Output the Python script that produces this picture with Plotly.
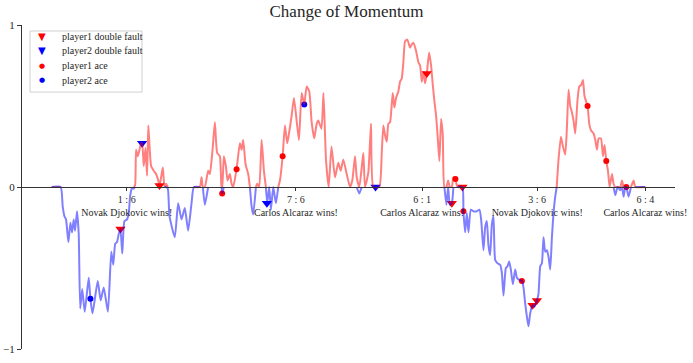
import numpy as np
import plotly.graph_objects as go

# momentum curve (point index, momentum)
point_x = [0, 4.5, 5.5, 6.35, 7.15, 8.35, 9.35, 10.15, 11, 11.65, 12.65, 13.5, 14.25, 15.25, 16.5, 18.5,
           19.35, 20.4, 23, 24.5, 26, 28.1, 29.75, 30.75, 31.75, 32.65, 33.5, 34.35, 35.25, 36.35, 37.65,
           38.5, 39.15, 40, 41, 41.65, 42.15, 43, 43.85, 44.65, 45.15, 46, 46.85, 47.65, 48.25, 49.65, 51,
           52.15, 53, 53.85, 54.65, 55.5, 56.35, 57.15, 58, 58.85, 61.5, 63.15, 64.85, 66.5, 68.15, 69.85,
           71, 74, 74.85, 75.5, 76.5, 78.15, 79, 80.35, 81.5, 82.65, 84, 84.85, 85.15, 86, 87, 87.85, 89,
           89.85, 90.65, 92.35, 94, 94.85, 95.65, 96.85, 98.15, 99, 99.85, 100.65, 102, 102.65, 103.65,
           104.85, 106, 107, 107.65, 108.65, 109.5, 110.65, 112, 113.15, 114, 115.35, 116.5, 117.65, 118.65,
           119.85, 121, 122.35, 123.5, 124.85, 126.15, 127.35, 128.65, 129.85, 131.15, 132.35, 133.15,
           134.75, 135.75, 137, 138.35, 139.75, 141.5, 143.15, 144.35, 145.65, 147.35, 149, 150.15, 151.5,
           152.35, 153.65, 154.85, 155.65, 156.5, 158.15, 159.5, 160.65, 163.65, 164.85, 165.65, 166.5,
           167.35, 168.15, 169, 170.35, 171.15, 172, 173.15, 174, 174.85, 175.65, 176.5, 177.65, 179,
           179.85, 180.65, 182, 183.15, 184, 184.85, 185.65, 186.5, 187.35, 188.5, 189.5, 190.35, 191.15,
           192, 192.85, 193.65, 194.5, 195.35, 196.15, 197.15, 198, 198.85, 199.85, 200.65, 201.65, 202.65,
           205.15, 205.65, 206.5, 207.35, 208.15, 209.35, 210.65, 212.35, 213.65, 214.5, 215.65, 216.5,
           217.35, 218.15, 219, 219.85, 220.65, 221.5, 222.65, 224, 224.85, 225.65, 226.85, 227.65, 228.5,
           229.35, 230.35, 231.5, 232.35, 233.15, 234.85, 235.65, 236.5, 237.35, 238.15, 239, 240.15,
           241.15, 242.35, 243.15, 244, 244.85, 245.65, 246.5, 247.35, 248.15, 249, 249.85, 250.65, 251.5,
           252.25, 253.15, 254.35, 255.35, 256.5, 257.35, 258.15, 259, 259.85, 260.65, 261.5, 262.65, 263.5,
           264.5, 265.35, 266.15, 267.65, 268.5, 269.35, 270.65, 271.5, 272.35, 273.15, 274.35, 275.35,
           276.15, 277, 277.85, 278.65, 279.85, 280.65, 281.5, 282.65, 284, 284.85, 285.65, 286.5, 287,
           288.15, 289.35, 290.65, 291.5, 296.5]
momentum = [0, 0, -0.12, -0.18, -0.20, -0.34, -0.22, -0.28, -0.20, -0.27, -0.15, -0.29, -0.75, -0.63, -0.77, -0.56,
            -0.69, -0.78, -0.58, -0.70, -0.62, -0.77, -0.40, -0.48, -0.35, -0.34, -0.29, -0.26, -0.41, -0.21, -0.20,
            -0.16, -0.06, -0.01, -0.01, 0.01, 0.23, 0.19, 0.23, 0.27, 0.27, 0.13, 0.24, 0.07, 0.38, 0.13, 0.10,
            0.08, 0.05, 0.01, 0.06, 0.12, 0, 0.02, -0.01, -0.18, -0.31, -0.10, -0.20, -0.13, -0.27, -0.10,
            0, 0, 0.06, 0, -0.11, 0.10, 0.08, 0.23, 0.40, 0.21, 0.19, 0, -0.04, 0.19, 0.13, 0.04, 0.08,
            0.02, 0, 0.11, 0.27, 0.23, 0.29, 0.14, 0.08, 0, -0.12, -0.17, 0, 0.02, 0,
            0.29, 0.10, 0, -0.10, 0, -0.14, 0, -0.10, 0, 0.04, 0.19, 0.38, 0.27, 0.34,
            0.44, 0.55, 0.41, 0.29, 0.58, 0.51, 0.62, 0.59, 0.40, 0.30, 0.39, 0.41,
            0.36, 0.58, 0.17, 0, 0.25, 0.06, 0.15, 0.10, 0.17, 0.08, 0, 0.04, 0.19,
            0.06, -0.04, 0.12, 0.21, 0, 0.09, 0.39, 0, 0, 0.21, 0.38, 0.32,
            0.28, 0.39, 0.40, 0.58, 0.49, 0.55, 0.59, 0.65, 0.67, 0.77, 0.90, 0.91, 0.86,
            0.88, 0.89, 0.84, 0.77, 0.75, 0.65, 0.71, 0.64, 0.70, 0.83, 0.75, 0.63, 0.53,
            0.44, 0.30, 0.16, 0.42, 0.32, 0, -0.11, 0.04, -0.11, -0.10, 0.06, 0.05, 0,
            0, -0.15, -0.28, -0.16, -0.28, -0.14, -0.15, -0.15, -0.14, -0.20, -0.39, -0.25,
            -0.21, -0.36, -0.42, -0.23, -0.18, -0.45, -0.47, -0.48, -0.53, -0.67, -0.50, -0.49, -0.46,
            -0.51, -0.60, -0.51, -0.56, -0.57, -0.58, -0.62, -0.72, -0.80, -0.86, -0.78, -0.73,
            -0.74, -0.70, -0.66, -0.49, -0.47, -0.31, -0.40, -0.39, -0.43, -0.51, -0.31, -0.16, -0.06,
            0, 0.17, 0.31, 0.25, 0.20, 0.37, 0.60, 0.50, 0.46, 0.41, 0.33, 0.54, 0.62,
            0.63, 0.66, 0.56, 0.50, 0.39, 0.35, 0.33, 0.29, 0.23, 0.30, 0.30, 0.19,
            0.26, 0.16, 0.10, 0, 0.08, 0.02, -0.05, 0, -0.02, 0.04, -0.06, 0, 0,
            -0.06, 0, 0.04, 0, 0]

# events
p1_df_x = [34.35, 53.85, 187.35, 199.85, 205.15, 240.15, 242.35]
p1_df_y = [-0.26, 0.01, 0.70, -0.10, 0, -0.73, -0.70]
p2_df_x = [45.15, 107.5, 161.75]
p2_df_y = [0.27, -0.10, 0]
p1_ace_x = [85.15, 92.35, 115.35, 201.65, 205.65, 234.85, 267.65, 277, 287]
p1_ace_y = [-0.04, 0.11, 0.19, 0.05, -0.15, -0.58, 0.50, 0.16, 0]
p2_ace_x = [19.35, 126.15]
p2_ace_y = [-0.69, 0.51]

# set ends and results
set_end_x = [37.5, 122, 185, 242.5, 296.5]
set_scores = ["1 : 6", "7 : 6", "6 : 1", "3 : 6", "6 : 4"]
set_winners = ["Novak Djokovic wins!", "Carlos Alcaraz wins!", "Carlos Alcaraz wins!",
               "Novak Djokovic wins!", "Carlos Alcaraz wins!"]
y_ticks = [-1, 0, 1]
y_tick_text = ["\u22121", "0", "1"]

# legend entries: label, symbol, colour
legend_labels = ["player1 double fault", "player2 double fault", "player1 ace", "player2 ace"]
legend_symbols = ["▼", "▼", "●", "●"]
legend_colors = ["red", "blue", "red", "blue"]

serif = "Liberation Serif"
m = np.array(momentum, dtype=float)
x = np.array(point_x, dtype=float)

# split the curve: red part where momentum >= 0, blue part where <= 0
prev = np.concatenate([[m[0]], m[:-1]])
nxt = np.concatenate([m[1:], [m[-1]]])
show_pos = (m >= 0) | (prev > 0) | (nxt > 0)
show_neg = (m <= 0) | (prev < 0) | (nxt < 0)
y_pos = np.where(show_pos, np.maximum(m, 0), np.nan)
y_neg = np.where(show_neg, np.minimum(m, 0), np.nan)

fig = go.Figure()
fig.add_trace(go.Scatter(x=p1_df_x, y=p1_df_y, mode="markers", name=legend_labels[0],
                         marker=dict(symbol="triangle-down", size=9, color="red")))
fig.add_trace(go.Scatter(x=p2_df_x, y=p2_df_y, mode="markers", name=legend_labels[1],
                         marker=dict(symbol="triangle-down", size=9, color="blue")))
fig.add_trace(go.Scatter(x=p1_ace_x, y=p1_ace_y, mode="markers", name=legend_labels[2],
                         marker=dict(symbol="circle", size=6, color="red")))
fig.add_trace(go.Scatter(x=p2_ace_x, y=p2_ace_y, mode="markers", name=legend_labels[3],
                         marker=dict(symbol="circle", size=6, color="blue")))
fig.add_trace(go.Scatter(x=x, y=y_pos, mode="lines", showlegend=False, hoverinfo="skip",
                         line=dict(color="rgba(255,0,0,0.5)", width=2, shape="spline", smoothing=0.5)))
fig.add_trace(go.Scatter(x=x, y=y_neg, mode="lines", showlegend=False, hoverinfo="skip",
                         line=dict(color="rgba(0,0,255,0.5)", width=2, shape="spline", smoothing=0.5)))

# compact legend box (matplotlib-like), drawn in the plot's paper space
fig.add_shape(type="rect", xref="paper", yref="paper", x0=0.0123, x1=0.1838, y0=0.793, y1=0.9815,
              line=dict(color="#d0d0d0", width=1), fillcolor="rgba(255,255,255,0.85)", layer="above")
row_y = [0.9645, 0.9198, 0.8750, 0.8302]
for lab, sym, col, ry in zip(legend_labels, legend_symbols, legend_colors, row_y):
    fig.add_annotation(xref="paper", yref="paper", x=0.0306, y=ry, text=sym, showarrow=False,
                       xanchor="center", yanchor="middle",
                       font=dict(family="DejaVu Sans", size=10 if sym == "▼" else 7, color=col))
    fig.add_annotation(xref="paper", yref="paper", x=0.0582, y=ry, text=lab, showarrow=False,
                       xanchor="left", yanchor="middle",
                       font=dict(family=serif, size=10, color="#262626"))

span = set_end_x[-1] - point_x[0]
fig.update_layout(
    width=693, height=363,
    margin=dict(l=22, r=18, t=25, b=14),
    paper_bgcolor="white", plot_bgcolor="white",
    showlegend=False,
    font=dict(family=serif, color="#262626"),
    title=dict(text="Change of Momentum", x=0.5, xanchor="center", y=0.985, yanchor="top",
               font=dict(family=serif, size=17, color="#262626")),
    xaxis=dict(range=[point_x[0] - 0.05 * span, set_end_x[-1] + 0.05 * span], automargin=False,
               anchor="free", position=0.5, showline=True, linecolor="#333333", linewidth=1,
               ticks="outside", ticklen=3, tickcolor="#333333",
               tickvals=set_end_x,
               ticktext=[f"{s}<br>{w}" for s, w in zip(set_scores, set_winners)],
               tickfont=dict(family=serif, size=10, color="#262626"),
               showgrid=False, zeroline=False),
    yaxis=dict(range=[-1, 1], tickvals=y_ticks, ticktext=y_tick_text, automargin=False,
               showline=True, linecolor="#333333", linewidth=1, ticks="outside", ticklen=4,
               tickcolor="#333333", tickfont=dict(family=serif, size=11, color="#262626"),
               showgrid=False, zeroline=False),
)

fig.write_html("out.html", config={"displayModeBar": False},
               post_script="document.body.style.margin='0';document.body.style.overflow='hidden';")
